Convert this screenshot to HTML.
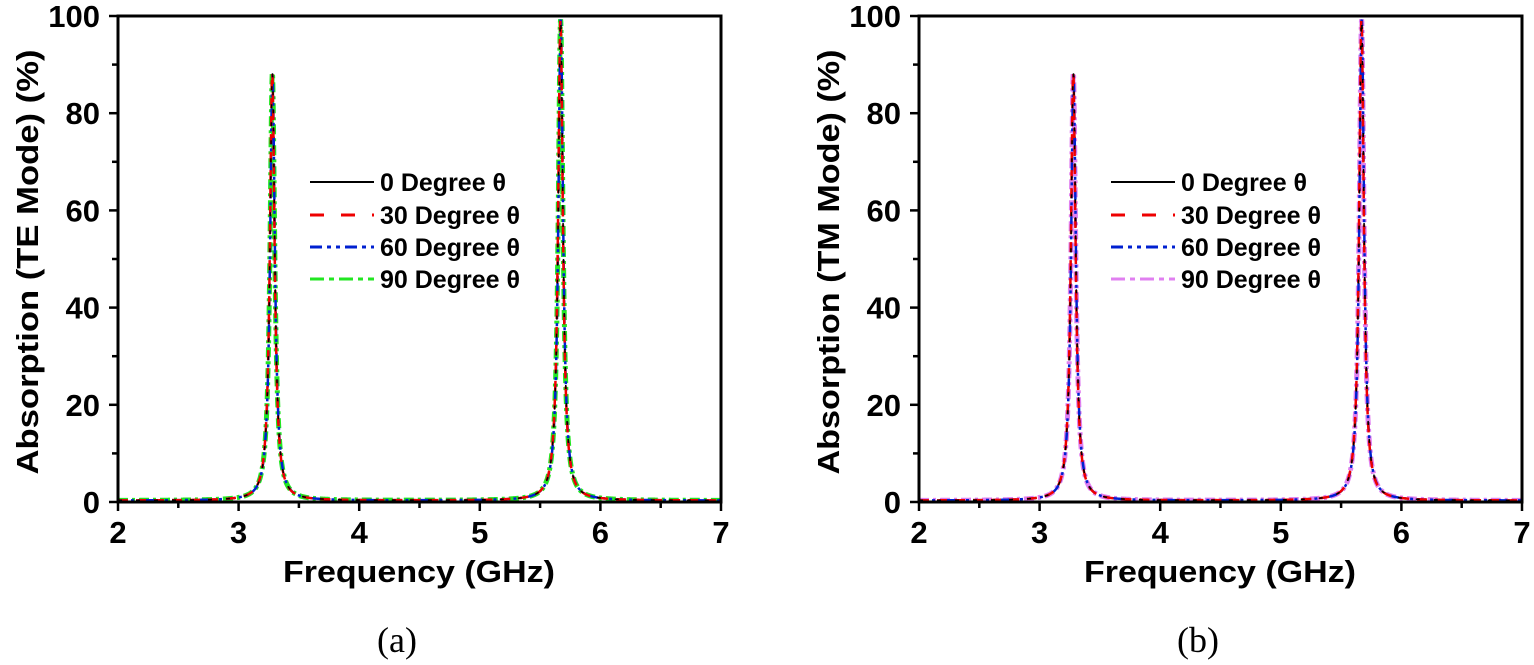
<!DOCTYPE html>
<html><head><meta charset="utf-8"><style>
html,body{margin:0;padding:0;background:#fff;}
svg{display:block;}
.t{font-family:"Liberation Sans",Arial,sans-serif;font-weight:bold;fill:#000;}
.c{font-family:"Liberation Serif","Times New Roman",serif;fill:#000;}
</style></head><body>
<svg id="s" width="1534" height="665" viewBox="0 0 1534 665" xmlns="http://www.w3.org/2000/svg"></svg>
<script>
const s=document.getElementById('s');let h='';
function panel(x0,label,col4,cap){
 const x1=x0+603,y0=502,y1=16;
 const X=f=>x0+(f-2)*(x1-x0)/5, Y=v=>y0-v*(y0-y1)/100;
 function curve(shift){let d='';for(let i=0;i<=3000;i++){const f=2+5*i/3000;
  const a=88/(1+((f-3.28-shift)/0.024)**2)+99/(1+((f-5.67-shift)/0.024)**2)+0.3;
  d+=(i?'L':'M')+X(f).toFixed(2)+' '+Y(Math.min(a,100)).toFixed(2);}return d;}
 const styles=[['#000',''],['#e00','10,8'],['#0020d0','9,4,3,4,3,4'],[col4,'10,4,3,4']];
 h+=`<path d="${curve(0)}" fill="none" stroke="${col4}" stroke-width="5" stroke-dasharray="10,4,3,4"/>`;
 h+=`<path d="${curve(0.001)}" fill="none" stroke="#0020d0" stroke-width="2.5" stroke-dasharray="9,4,3,4,3,4"/>`;
 h+=`<path d="${curve(-0.001)}" fill="none" stroke="#e00" stroke-width="2.5" stroke-dasharray="10,8"/>`;
 h+=`<path d="${curve(0)}" fill="none" stroke="#000" stroke-width="1.5" stroke-dasharray="4,14"/>`;
 h+=`<rect x="${x0}" y="${y1}" width="${x1-x0}" height="${y0-y1}" fill="none" stroke="#000" stroke-width="3"/>`;
 for(let f=2;f<=7;f+=0.5){const x=X(f),L=(f%1==0)?9:6;h+=`<line x1="${x}" y1="${y0}" x2="${x}" y2="${y0+L}" stroke="#000" stroke-width="2.5"/>`;
  if(f%1==0)h+=`<text class="t" x="${x}" y="543" font-size="31" text-anchor="middle">${f}</text>`;}
 for(let v=0;v<=100;v+=10){const y=Y(v),L=(v%20==0)?9:6;h+=`<line x1="${x0}" y1="${y}" x2="${x0-L}" y2="${y}" stroke="#000" stroke-width="2.5"/>`;
  if(v%20==0)h+=`<text class="t" x="${x0-18}" y="${y+11}" font-size="31" text-anchor="end">${v}</text>`;}
 h+=`<text class="t" x="${x0+301}" y="582" font-size="31" text-anchor="middle" textLength="272" lengthAdjust="spacingAndGlyphs">Frequency (GHz)</text>`;
 h+=`<text class="t" font-size="31" text-anchor="middle" textLength="425" lengthAdjust="spacingAndGlyphs" transform="translate(${x0-80},262) rotate(-90)">Absorption (${label} Mode) (%)</text>`;
 const lx=x0+192,ly=[182,215,247,279],nm=['0','30','60','90'];
 for(let i=0;i<4;i++){h+=`<line x1="${lx}" y1="${ly[i]}" x2="${lx+64}" y2="${ly[i]}" stroke="${styles[i][0]}" stroke-width="${i==0?2:3}" ${styles[i][1]?`stroke-dasharray="${i==1?'14,17':i==2?'12,5,4,5,4,5':'14,5,5,5'}"`:''}/>`;
  h+=`<text class="t" x="${lx+70}" y="${ly[i]+9}" font-size="25">${nm[i]} Degree θ</text>`;}
 h+=`<text class="c" x="${x0+279}" y="652" font-size="36" text-anchor="middle">${cap}</text>`;
}
panel(118,'TE','#22e622','(a)');
panel(919,'TM','#e080f0','(b)');
s.innerHTML=h;
</script>
</body></html>
